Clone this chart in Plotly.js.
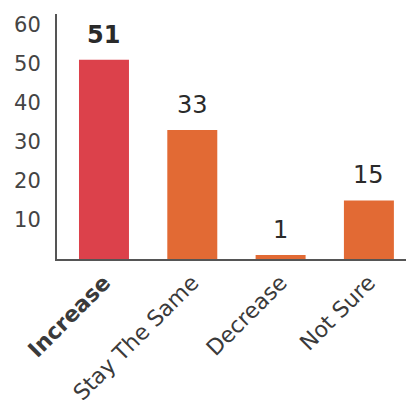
<!DOCTYPE html>
<html><head><meta charset="utf-8">
<script src="https://cdn.plot.ly/plotly-3.0.1.min.js"></script>
<style>html,body{margin:0;padding:0;background:#fff}#c{width:406px;height:400px}</style>
</head><body><div id="c"></div>
<script>
const categories = ["Increase", "Stay The Same", "Decrease", "Not Sure"];
const tickLabels = ["<b>Increase</b>", "Stay The Same", "Decrease", "Not Sure"];
const values = [51, 33, 1, 15];
const valueLabels = ["<b>51</b>", "33", "1", "15"];
const barColors = ["#dc414b", "#e26a34", "#e26a34", "#e26a34"];
const yTicks = [10, 20, 30, 40, 50, 60];

const font = "'DejaVu Sans', sans-serif";
const annotations = categories.map((c, i) => ({
  x: c, y: values[i], xref: "x", yref: "y",
  text: valueLabels[i], showarrow: false,
  yanchor: "bottom", yshift: 9,
  font: {family: font, size: 24, color: "#2a2a2a"}
}));

Plotly.newPlot("c", [{
  type: "bar",
  x: categories,
  y: values,
  marker: {color: barColors},
  hoverinfo: "none"
}], {
  width: 406, height: 400,
  margin: {l: 57, r: 0, t: 14, b: 141},
  paper_bgcolor: "#fff", plot_bgcolor: "#fff",
  bargap: 0.434,
  showlegend: false,
  annotations: annotations,
  xaxis: {
    range: [-0.532, 3.42],
    tickvals: categories, ticktext: tickLabels,
    tickangle: -45,
    tickfont: {family: font, size: 22, color: "#3a3a3a"},
    showline: true, linecolor: "#555", linewidth: 2,
    ticks: "", showgrid: false, zeroline: false, fixedrange: true
  },
  yaxis: {
    range: [0, 62.7],
    tickvals: yTicks,
    tickfont: {family: font, size: 21, color: "#444"},
    ticklabelstandoff: 10,
    showline: true, linecolor: "#555", linewidth: 2,
    ticks: "", showgrid: false, zeroline: false, fixedrange: true
  }
}, {displayModeBar: false, staticPlot: true});
</script></body></html>
